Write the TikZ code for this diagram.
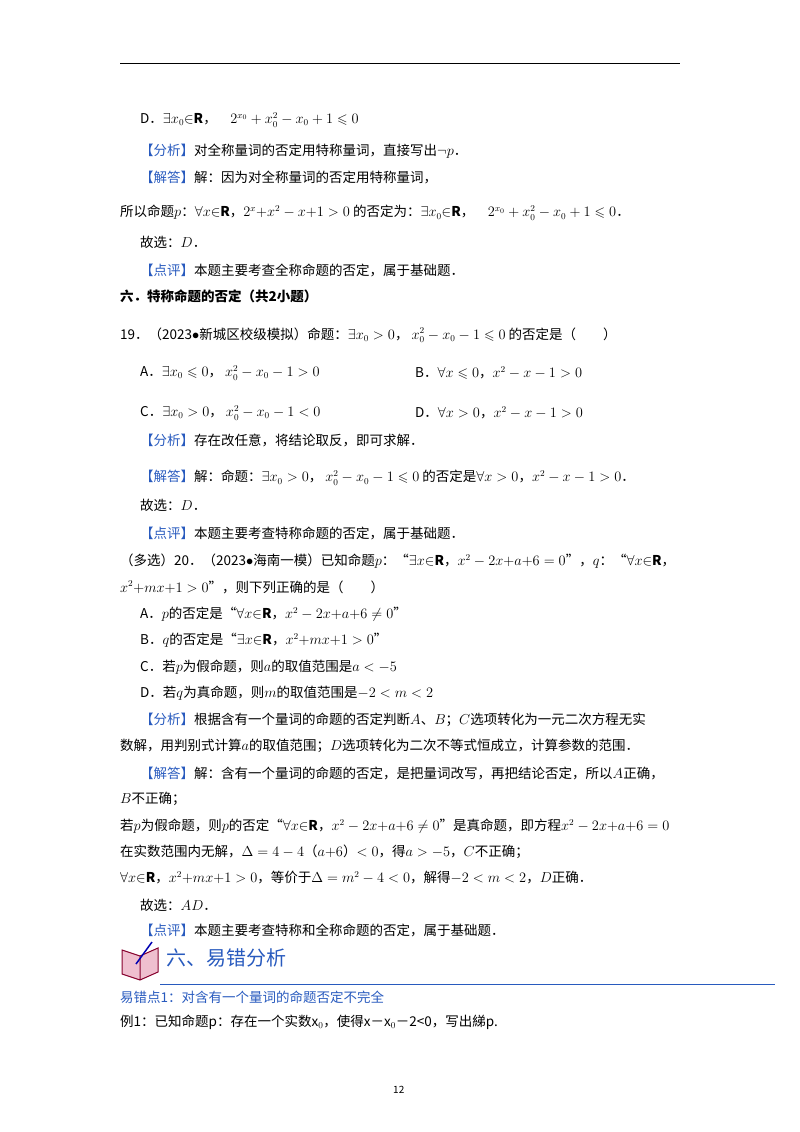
\documentclass[tikz,border=0pt]{standalone}
\usepackage{fontspec}
\setmainfont{Noto Sans CJK SC}
\usepackage{amssymb}
\begin{document}
\begin{tikzpicture}[x=1pt,y=-1pt,
  t/.style={anchor=west,inner sep=0pt,font=\fontsize{13.5}{16}\selectfont},
  hb/.style={text=blue!70!black}]
\definecolor{hd}{RGB}{40,90,190}
\useasboundingbox (0,0) rectangle (800,1132);
\draw[line width=1pt] (120,64) -- (680,64);
\node[t] (l1) at (140,120) {D．$\exists x_0{\in}\mathbf{R}$，\quad $2^{x_0}+x_0^2-x_0+1\leqslant 0$};
\node[t] (l2) at (140,151) {\textcolor{hd}{【分析】}对全称量词的否定用特称量词，直接写出$\neg p$．};
\node[t] (l3) at (140,177) {\textcolor{hd}{【解答】}解：因为对全称量词的否定用特称量词，};
\node[t] (l4) at (120,213) {所以命题$p$：$\forall x{\in}\mathbf{R}$，$2^x{+}x^2-x{+}1>0$ 的否定为：$\exists x_0{\in}\mathbf{R}$，\quad $2^{x_0}+x_0^2-x_0+1\leqslant 0$．};
\node[t] (l5) at (140,242) {故选：$D$．};
\node[t] (l6) at (140,270) {\textcolor{hd}{【点评】}本题主要考查全称命题的否定，属于基础题．};
\node[t,font=\fontsize{13.5}{16}\selectfont\bfseries] (h6) at (120,296) {六．特称命题的否定（共2小题）};
\node[t] (q19) at (120,335) {19．（2023$\bullet$新城区校级模拟）命题：$\exists x_0>0$，\ $x_0^2-x_0-1\leqslant 0$ 的否定是（\qquad）};
\node[t] (a19) at (140,373) {A．$\exists x_0\leqslant 0$，\ $x_0^2-x_0-1>0$};
\node[t] (b19) at (415,373) {B．$\forall x\leqslant 0$，$x^2-x-1>0$};
\node[t] (c19) at (140,413) {C．$\exists x_0>0$，\ $x_0^2-x_0-1<0$};
\node[t] (d19) at (415,413) {D．$\forall x>0$，$x^2-x-1>0$};
\node[t] (f19) at (140,440) {\textcolor{hd}{【分析】}存在改任意，将结论取反，即可求解．};
\node[t] (s19) at (140,478) {\textcolor{hd}{【解答】}解：命题：$\exists x_0>0$，\ $x_0^2-x_0-1\leqslant 0$ 的否定是$\forall x>0$，$x^2-x-1>0$．};
\node[t] (g19) at (140,505) {故选：$D$．};
\node[t] (p19) at (140,533) {\textcolor{hd}{【点评】}本题主要考查特称命题的否定，属于基础题．};
\node[t] (q20) at (120,561) {（多选）20．（2023$\bullet$海南一模）已知命题$p$：“$\exists x{\in}\mathbf{R}$，$x^2-2x{+}a{+}6=0$”，$q$：“$\forall x{\in}\mathbf{R}$，};
\node[t] (q20b) at (120,587) {$x^2{+}mx{+}1>0$”，则下列正确的是（\qquad）};
\node[t] (a20) at (140,614) {A．$p$的否定是“$\forall x{\in}\mathbf{R}$，$x^2-2x{+}a{+}6\neq 0$”};
\node[t] (b20) at (140,640) {B．$q$的否定是“$\exists x{\in}\mathbf{R}$，$x^2{+}mx{+}1>0$”};
\node[t] (c20) at (140,667) {C．若$p$为假命题，则$a$的取值范围是$a<-5$};
\node[t] (d20) at (140,693) {D．若$q$为真命题，则$m$的取值范围是$-2<m<2$};
\node[t] (f20) at (140,720) {\textcolor{hd}{【分析】}根据含有一个量词的命题的否定判断$A$、$B$；$C$选项转化为一元二次方程无实};
\node[t] (f20b) at (120,746) {数解，用判别式计算$a$的取值范围；$D$选项转化为二次不等式恒成立，计算参数的范围．};
\node[t] (s20) at (140,773) {\textcolor{hd}{【解答】}解：含有一个量词的命题的否定，是把量词改写，再把结论否定，所以$A$正确，};
\node[t] (s20b) at (120,799) {$B$不正确；};
\node[t] (s20c) at (120,826) {若$p$为假命题，则$p$的否定“$\forall x{\in}\mathbf{R}$，$x^2-2x{+}a{+}6\neq 0$”是真命题，即方程$x^2-2x{+}a{+}6=0$};
\node[t] (s20d) at (120,852) {在实数范围内无解，$\Delta=4-4$（$a{+}6$）$<0$，得$a>-5$，$C$不正确；};
\node[t] (s20e) at (120,878) {$\forall x{\in}\mathbf{R}$，$x^2{+}mx{+}1>0$，等价于$\Delta=m^2-4<0$，解得$-2<m<2$，$D$正确．};
\node[t] (g20) at (140,905) {故选：$AD$．};
\node[t] (p20) at (140,930) {\textcolor{hd}{【点评】}本题主要考查特称和全称命题的否定，属于基础题．};
% icon
\begin{scope}[shift={(122,942)}]
\fill[purple!25] (0,8) -- (18,14) -- (36,6) -- (36,30) -- (18,38) -- (0,32) -- cycle;
\draw[purple!70!black,line width=1pt] (0,8) -- (18,14) -- (36,6) -- (36,30) -- (18,38) -- (0,32) -- cycle (18,14) -- (18,38);
\draw[blue!70!black,line width=1.5pt] (30,0) -- (14,22);
\end{scope}
\node[t,font=\fontsize{20}{22}\selectfont,text=hd] (h6b) at (166,958) {六、易错分析};
\draw[hd,line width=1pt] (160,984) -- (775,984);
\node[t,text=hd] (e1) at (120,997) {易错点1：对含有一个量词的命题否定不完全};
\node[t] (ex1) at (120,1022) {例1：已知命题p：存在一个实数x$_0$，使得x－x$_0$－2<0，写出綈p.};
\node[t,font=\fontsize{10}{12}\selectfont] (pg) at (393,1090) {12};
\end{tikzpicture}
\end{document}
